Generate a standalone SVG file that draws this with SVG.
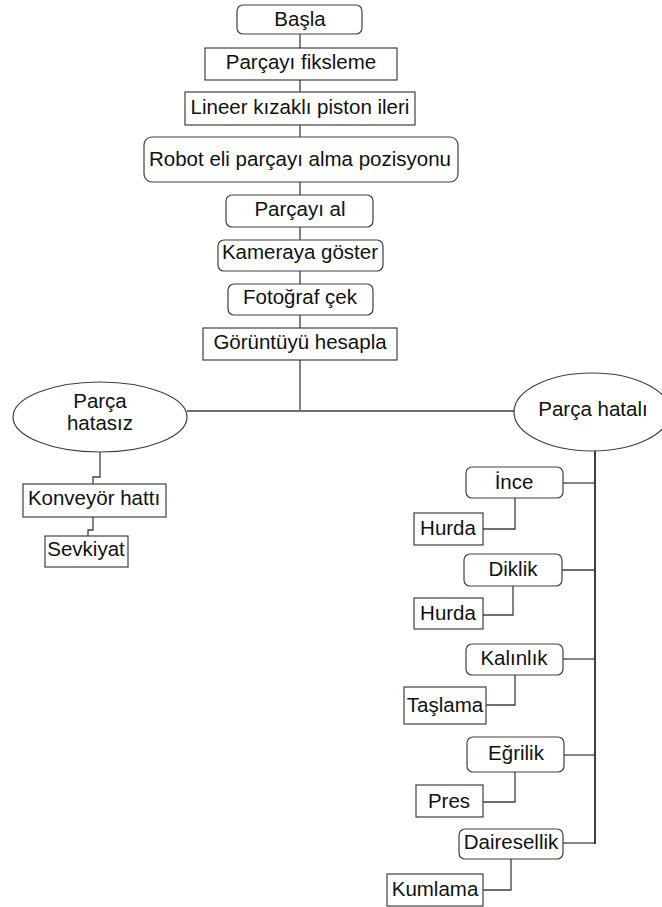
<svg xmlns="http://www.w3.org/2000/svg" width="662" height="907" viewBox="0 0 662 907">
<style>
.b{fill:#fff;stroke:#404040;stroke-width:1.2}
.t{font-family:"Liberation Sans",Arial,sans-serif;font-size:20.5px;fill:#111;text-anchor:middle}
.c{fill:none;stroke:#404040;stroke-width:1.3}
</style>
<rect width="662" height="907" fill="#fff"/>
<g id="connectors">
<line class="c" x1="300" y1="34" x2="300" y2="410"/>
<line class="c" x1="187" y1="411" x2="515" y2="411"/>
<polyline class="c" points="100,452 100,477 93,477 93,484"/>
<polyline class="c" points="93,517 93,530 88,530 88,536"/>
<line class="c" x1="595" y1="451" x2="595" y2="844" style="stroke-width:2"/>
<polyline class="c" points="563,483 595,483"/>
<polyline class="c" points="515,498 515,529 483,529"/>
<polyline class="c" points="562,570 595,570"/>
<polyline class="c" points="513,586 513,615 483,615"/>
<polyline class="c" points="563,659 595,659"/>
<polyline class="c" points="515,675 515,705 486,705"/>
<polyline class="c" points="564,755 595,755"/>
<polyline class="c" points="515,772 515,802 483,802"/>
<polyline class="c" points="563,843 595,843"/>
<polyline class="c" points="511,859 511,890 483,890"/>
</g>
<g id="basla"><rect class="b" x="237" y="5" width="125" height="29" rx="6"/><text class="t" x="300" y="26">Başla</text></g>
<g id="fiksleme"><rect class="b" x="205" y="48" width="192" height="32"/><text class="t" x="301" y="69">Parçayı fiksleme</text></g>
<g id="lineer"><rect class="b" x="185" y="92" width="230" height="33"/><text class="t" x="300" y="114">Lineer kızaklı piston ileri</text></g>
<g id="robot"><rect class="b" x="144" y="137" width="314" height="45" rx="8"/><text class="t" x="300" y="166">Robot eli parçayı alma pozisyonu</text></g>
<g id="parcayial"><rect class="b" x="226" y="195" width="147" height="32" rx="6"/><text class="t" x="300" y="216">Parçayı al</text></g>
<g id="kamera"><rect class="b" x="218" y="240" width="165" height="31" rx="6"/><text class="t" x="300" y="259">Kameraya göster</text></g>
<g id="foto"><rect class="b" x="228" y="284" width="145" height="31" rx="6"/><text class="t" x="300" y="304">Fotoğraf çek</text></g>
<g id="goruntu"><rect class="b" x="203" y="328" width="194" height="32"/><text class="t" x="300" y="349">Görüntüyü hesapla</text></g>
<g id="hatasiz"><ellipse class="b" cx="100" cy="417" rx="87" ry="35"/><text class="t" x="100" y="408">Parça</text><text class="t" x="100" y="430">hatasız</text></g>
<g id="hatali"><ellipse class="b" cx="592" cy="412" rx="78" ry="39"/><text class="t" x="593" y="416">Parça hatalı</text></g>
<g id="konveyor"><rect class="b" x="23" y="484" width="143" height="33"/><text class="t" x="94" y="505">Konveyör hattı</text></g>
<g id="sevkiyat"><rect class="b" x="45" y="536" width="83" height="31"/><text class="t" x="86" y="556">Sevkiyat</text></g>
<g id="ince"><rect class="b" x="466" y="467" width="97" height="31" rx="6"/><text class="t" x="514" y="489">İnce</text></g>
<g id="hurda1"><rect class="b" x="414" y="513" width="69" height="32"/><text class="t" x="448" y="535">Hurda</text></g>
<g id="diklik"><rect class="b" x="464" y="554" width="98" height="32" rx="6"/><text class="t" x="513" y="576">Diklik</text></g>
<g id="hurda2"><rect class="b" x="414" y="598" width="69" height="31"/><text class="t" x="448" y="620">Hurda</text></g>
<g id="kalinlik"><rect class="b" x="466" y="644" width="97" height="31" rx="6"/><text class="t" x="514" y="665">Kalınlık</text></g>
<g id="taslama"><rect class="b" x="404" y="687" width="82" height="37"/><text class="t" x="445" y="712">Taşlama</text></g>
<g id="egrilik"><rect class="b" x="467" y="737" width="97" height="35" rx="6"/><text class="t" x="516" y="760">Eğrilik</text></g>
<g id="pres"><rect class="b" x="416" y="785" width="67" height="32"/><text class="t" x="449" y="808">Pres</text></g>
<g id="dairesellik"><rect class="b" x="459" y="829" width="104" height="30" rx="6"/><text class="t" x="511" y="849">Dairesellik</text></g>
<g id="kumlama"><rect class="b" x="387" y="874" width="96" height="32"/><text class="t" x="435" y="896">Kumlama</text></g>
</svg>
